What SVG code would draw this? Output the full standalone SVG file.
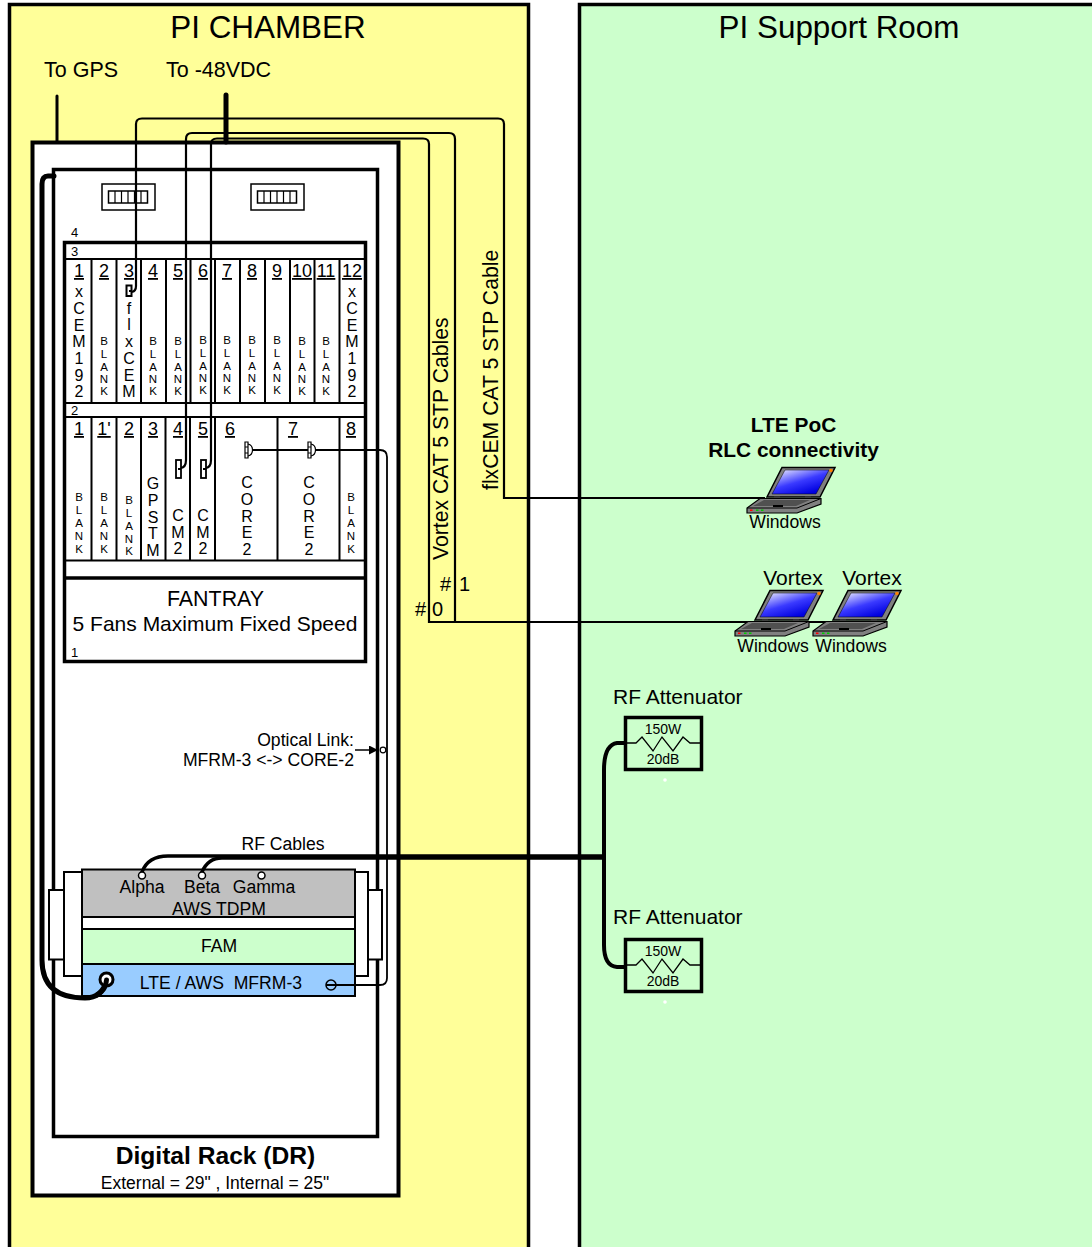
<svg xmlns="http://www.w3.org/2000/svg" width="1092" height="1247" viewBox="0 0 1092 1247">
<defs>
<linearGradient id="scr" x1="0.1" y1="0" x2="0.75" y2="0.9"><stop offset="0" stop-color="#e8e8ff"/><stop offset="0.55" stop-color="#3a3aff"/><stop offset="1" stop-color="#0000e0"/></linearGradient>
<marker id="arr" viewBox="0 0 10 10" refX="10" refY="5" markerWidth="11" markerHeight="9" markerUnits="userSpaceOnUse" orient="auto"><path d="M0 0L10 5L0 10Z" fill="#000"/></marker>
<g id="laptop">
<path d="M782 467.500L835 467.500L820 497L767 497Z" fill="#808080" stroke="#000" stroke-width="1.500"/>
<path d="M785 470L829 470L816 494L772 494Z" fill="url(#scr)" stroke="#000" stroke-width="0.500"/>
<circle cx="831" cy="470.500" r="1.700" fill="#ff8000"/>
<path d="M774 496.500H780V498.500H774ZM805 496.500H811V498.500H805Z" fill="#404040"/>
<path d="M760 498.500L821 498.500L821 504L797 513L747 513L747 508Z" fill="#808080" stroke="#000" stroke-width="1.200"/>
<path d="M747 508L797 508L821 498.500" fill="none" stroke="#000"/>
<path d="M764 500L810 500L796 506L753 506Z" fill="#505050"/>
<rect x="773" y="505" width="10" height="2" fill="#000"/>
<rect x="750" y="509.500" width="2.500" height="1.500" fill="#f00"/><rect x="756" y="509.500" width="2.500" height="1.500" fill="#0c0"/><rect x="761" y="509.500" width="2.500" height="1.500" fill="#0c0"/>
</g>
<g id="resistor" fill="none" stroke="#000">
<path d="M627 743L636 743L642 737L653 751L662 737L673 751L683 737L690 743L700 743" stroke-width="1.300"/>
</g>
<g id="vent"><rect x="0" y="0" width="53" height="26" fill="none" stroke="#000" stroke-width="1.500"/><rect x="6.500" y="7" width="39" height="12" fill="none" stroke="#000" stroke-width="1.500"/><path d="M13 7V19M19.500 7V19M26 7V19M32.500 7V19M39 7V19" stroke="#000" stroke-width="1.200"/></g>
<g id="dplug"><path d="M0 -6Q4.500 -5 4.500 0Q4.500 5 0 6" fill="#fff" stroke="#000" stroke-width="1.200"/><path d="M-3 -8H0V-3H-3ZM-3 -3H0V3H-3ZM-3 3H0V8H-3Z" fill="#fff" stroke="#000" stroke-width="1.200"/></g>
</defs>
<style>
text{font-family:"Liberation Sans",Arial,sans-serif;fill:#000}
.c{text-anchor:middle}
.n{font-size:18px;text-anchor:middle;text-decoration:underline}
.s{font-size:16px;text-anchor:middle}
.b{font-size:11.500px;text-anchor:middle}
.m{font-size:17.600px}
.t{font-size:13px}
.sl{fill:none;stroke:#000;stroke-width:2}
.cab{fill:none;stroke:#000;stroke-width:2.200}
.rf{fill:none;stroke:#000;stroke-width:3.500;stroke-linecap:round}
.att{fill:none;stroke:#000;stroke-width:3.500}
</style>
<rect width="1092" height="1247" fill="#fff"/>
<g id="pi-chamber"><rect x="9.500" y="4.500" width="519" height="1260" fill="#FFFF99" stroke="#000" stroke-width="3.500"/>
<text x="268" y="38" class="c" font-size="31.400">PI CHAMBER</text>
<text x="44" y="77" font-size="21.500">To GPS</text><text x="166" y="77" font-size="21.500">To -48VDC</text></g>
<g id="pi-support-room"><rect x="579.500" y="4.500" width="540" height="1260" fill="#CCFFCC" stroke="#000" stroke-width="3.500"/>
<text x="839" y="38" class="c" font-size="31.400">PI Support Room</text></g>

<g id="digital-rack">
<rect x="32.500" y="142.500" width="366" height="1053" fill="#fff" stroke="#000" stroke-width="4"/>
<rect x="53.500" y="169.500" width="324" height="967" fill="#fff" stroke="#000" stroke-width="3.500"/>
<text x="215.500" y="1164" class="c" font-size="24.600" font-weight="bold">Digital Rack (DR)</text>
<text x="215" y="1189" class="c" font-size="17.500">External = 29" , Internal = 25"</text>
<use href="#vent" x="102" y="184"/><use href="#vent" x="251" y="184"/>
</g>

<g id="shelf">
<rect x="64.500" y="242.500" width="301" height="419" fill="#fff" stroke="#000" stroke-width="3.500"/>
<path d="M66 578H366" stroke="#000" stroke-width="3.500"/>
<text x="71" y="237" class="t">4</text><text x="71" y="256" class="t">3</text><text x="71" y="415" class="t">2</text><text x="71" y="657" class="t">1</text>
<text x="215.500" y="606" class="c" font-size="21.400">FANTRAY</text>
<text x="215" y="631" class="c" font-size="21">5 Fans Maximum Fixed Speed</text>
</g>
<g id="upper-slots">
<path class="sl" d="M66 259H365M66 403H365M91.500 259V403M116.500 259V403M141 259V403M166 259V403M190.500 259V403M215 259V403M240 259V403M265 259V403M290 259V403M314.500 259V403M339.500 259V403"/>
<text class="n" x="79" y="277">1</text><text class="n" x="104" y="277">2</text><text class="n" x="129" y="277">3</text><text class="n" x="153" y="277">4</text><text class="n" x="178" y="277">5</text><text class="n" x="203" y="277">6</text><text class="n" x="227" y="277">7</text><text class="n" x="252" y="277">8</text><text class="n" x="277" y="277">9</text><text class="n" x="302" y="277">10</text><text class="n" x="326" y="277">11</text><text class="n" x="352" y="277">12</text>
<text class="s"><tspan x="79" y="297">x</tspan><tspan x="79" y="314">C</tspan><tspan x="79" y="331">E</tspan><tspan x="79" y="347">M</tspan><tspan x="79" y="364">1</tspan><tspan x="79" y="381">9</tspan><tspan x="79" y="397">2</tspan></text>
<text class="s"><tspan x="352" y="297">x</tspan><tspan x="352" y="314">C</tspan><tspan x="352" y="331">E</tspan><tspan x="352" y="347">M</tspan><tspan x="352" y="364">1</tspan><tspan x="352" y="381">9</tspan><tspan x="352" y="397">2</tspan></text>
<text class="s"><tspan x="129" y="314">f</tspan><tspan x="129" y="330">l</tspan><tspan x="129" y="347">x</tspan><tspan x="129" y="364">C</tspan><tspan x="129" y="381">E</tspan><tspan x="129" y="397">M</tspan></text>
<text class="b"><tspan x="104" y="345">B</tspan><tspan x="104" y="358">L</tspan><tspan x="104" y="371">A</tspan><tspan x="104" y="383">N</tspan><tspan x="104" y="395">K</tspan></text>
<text class="b"><tspan x="153" y="345">B</tspan><tspan x="153" y="358">L</tspan><tspan x="153" y="371">A</tspan><tspan x="153" y="383">N</tspan><tspan x="153" y="395">K</tspan></text>
<text class="b"><tspan x="178" y="345">B</tspan><tspan x="178" y="358">L</tspan><tspan x="178" y="371">A</tspan><tspan x="178" y="383">N</tspan><tspan x="178" y="395">K</tspan></text>
<text class="b"><tspan x="203" y="344">B</tspan><tspan x="203" y="357">L</tspan><tspan x="203" y="370">A</tspan><tspan x="203" y="382">N</tspan><tspan x="203" y="394">K</tspan></text>
<text class="b"><tspan x="227" y="344">B</tspan><tspan x="227" y="357">L</tspan><tspan x="227" y="370">A</tspan><tspan x="227" y="382">N</tspan><tspan x="227" y="394">K</tspan></text>
<text class="b"><tspan x="252" y="344">B</tspan><tspan x="252" y="357">L</tspan><tspan x="252" y="370">A</tspan><tspan x="252" y="382">N</tspan><tspan x="252" y="394">K</tspan></text>
<text class="b"><tspan x="277" y="344">B</tspan><tspan x="277" y="357">L</tspan><tspan x="277" y="370">A</tspan><tspan x="277" y="382">N</tspan><tspan x="277" y="394">K</tspan></text>
<text class="b"><tspan x="302" y="345">B</tspan><tspan x="302" y="358">L</tspan><tspan x="302" y="371">A</tspan><tspan x="302" y="383">N</tspan><tspan x="302" y="395">K</tspan></text>
<text class="b"><tspan x="326" y="345">B</tspan><tspan x="326" y="358">L</tspan><tspan x="326" y="371">A</tspan><tspan x="326" y="383">N</tspan><tspan x="326" y="395">K</tspan></text>
</g>
<g id="lower-slots">
<path class="sl" d="M66 417H365M66 560.500H365M91.500 417V560M116.500 417V560M141 417V560M165.500 417V560M190 417V560M215 417V560M277.500 417V560M339.500 417V560"/>
<text class="n" x="79" y="435">1</text><text class="n" x="104" y="435">1'</text><text class="n" x="129" y="435">2</text><text class="n" x="153" y="435">3</text><text class="n" x="178" y="435">4</text><text class="n" x="203" y="435">5</text><text class="n" x="230" y="435">6</text><text class="n" x="293" y="435">7</text><text class="n" x="351" y="435">8</text>
<text class="b"><tspan x="79" y="501">B</tspan><tspan x="79" y="514">L</tspan><tspan x="79" y="527">A</tspan><tspan x="79" y="540">N</tspan><tspan x="79" y="553">K</tspan></text>
<text class="b"><tspan x="104" y="501">B</tspan><tspan x="104" y="514">L</tspan><tspan x="104" y="527">A</tspan><tspan x="104" y="540">N</tspan><tspan x="104" y="553">K</tspan></text>
<text class="b"><tspan x="129" y="504">B</tspan><tspan x="129" y="517">L</tspan><tspan x="129" y="530">A</tspan><tspan x="129" y="543">N</tspan><tspan x="129" y="555">K</tspan></text>
<text class="b"><tspan x="351" y="501">B</tspan><tspan x="351" y="514">L</tspan><tspan x="351" y="527">A</tspan><tspan x="351" y="540">N</tspan><tspan x="351" y="553">K</tspan></text>
<text class="s"><tspan x="153" y="489">G</tspan><tspan x="153" y="506">P</tspan><tspan x="153" y="523">S</tspan><tspan x="153" y="539">T</tspan><tspan x="153" y="556">M</tspan></text>
<text class="s"><tspan x="178" y="521">C</tspan><tspan x="178" y="538">M</tspan><tspan x="178" y="554">2</tspan></text>
<text class="s"><tspan x="203" y="521">C</tspan><tspan x="203" y="538">M</tspan><tspan x="203" y="554">2</tspan></text>
<text class="s"><tspan x="247" y="488">C</tspan><tspan x="247" y="505">O</tspan><tspan x="247" y="522">R</tspan><tspan x="247" y="538">E</tspan><tspan x="247" y="555">2</tspan></text>
<text class="s"><tspan x="309" y="488">C</tspan><tspan x="309" y="505">O</tspan><tspan x="309" y="522">R</tspan><tspan x="309" y="538">E</tspan><tspan x="309" y="555">2</tspan></text>
</g>

<g id="mfrm-tray">
<rect x="49" y="890" width="15" height="69.500" fill="#fff" stroke="#000" stroke-width="2"/>
<rect x="64" y="872" width="18" height="104" fill="#fff" stroke="#000" stroke-width="2"/>
<rect x="355" y="872" width="13" height="104" fill="#fff" stroke="#000" stroke-width="2"/>
<rect x="368" y="890" width="14" height="69.500" fill="#fff" stroke="#000" stroke-width="2"/>
<rect x="82" y="869.500" width="273" height="47.500" fill="#C0C0C0" stroke="#000" stroke-width="2"/>
<rect x="82" y="929" width="273" height="35" fill="#CCFFCC" stroke="#000" stroke-width="2"/>
<rect x="82" y="964" width="273" height="32" fill="#99CCFF" stroke="#000" stroke-width="2"/>
<text x="142" y="893" class="m c">Alpha</text><text x="202" y="893" class="m c">Beta</text><text x="264" y="893" class="m c">Gamma</text>
<text x="219" y="915" class="m c">AWS TDPM</text><text x="219" y="952" class="m c">FAM</text>
<text x="221" y="989" class="m c" xml:space="preserve">LTE / AWS  MFRM-3</text>
<circle cx="261.500" cy="875.500" r="3.500" fill="#fff" stroke="#000" stroke-width="1.500"/>
</g>

<g id="attenuator-1"><rect x="625.500" y="717.500" width="76" height="52" fill="none" class="att"/><use href="#resistor"/>
<text x="663" y="734" class="c" font-size="14">150W</text><text x="663" y="764" class="c" font-size="14">20dB</text>
<circle cx="665" cy="780" r="1.800" fill="#fff"/>
<text x="613" y="704" font-size="21">RF Attenuator</text></g>
<g id="attenuator-2"><rect x="625.500" y="939.500" width="76" height="52" fill="none" class="att"/><use href="#resistor" y="222"/>
<text x="663" y="956" class="c" font-size="14">150W</text><text x="663" y="986" class="c" font-size="14">20dB</text>
<circle cx="665" cy="1002" r="1.800" fill="#fff"/>
<text x="613" y="924" font-size="21">RF Attenuator</text></g>

<g id="connectors">
<path d="M57 96V142" fill="none" stroke="#000" stroke-width="3" stroke-linecap="round"/>
<path d="M226 95V142" fill="none" stroke="#000" stroke-width="5" stroke-linecap="round"/>
<path class="cab" d="M132 292Q136 291 136 286V124Q136 118.500 142 118.500H498Q504 118.500 504 124V498H765"/>
<path class="cab" d="M180 468Q186 468 186 460V139Q186 133 192 133H449Q455 133 455 139V622"/>
<path class="cab" d="M205 468Q211 468 211 460V144Q211 138.500 217 138.500H423Q429 138.500 429 144V622H834"/>
<path d="M54 176H48Q42 176 42 184V960Q42 998 85 998Q102 998 107 980" fill="none" stroke="#000" stroke-width="5" stroke-linecap="round"/>
<path class="rf" d="M142 872Q148 856 168 856H604"/>
<path class="rf" d="M202 872Q208 858 222 858H604"/>
<path class="rf" d="M625 743H617Q604 745 604 770V945Q604 966 617 967H625" style="stroke-width:4"/>
<path fill="none" stroke="#000" stroke-width="1.800" d="M326 985H380Q387 985 387 978V457Q387 450 380 450H250"/>
<path d="M355 750H378" fill="none" stroke="#000" stroke-width="1.500" marker-end="url(#arr)"/>
<circle cx="383" cy="750" r="2.800" fill="#fff" stroke="#000" stroke-width="1.200"/>
<rect x="126.500" y="285.500" width="5" height="10.500" fill="#fff" stroke="#000" stroke-width="2"/>
<rect x="176" y="460" width="5" height="18" fill="#fff" stroke="#000" stroke-width="1.800"/>
<rect x="201" y="460" width="5" height="18" fill="#fff" stroke="#000" stroke-width="1.800"/>
<use href="#dplug" x="248" y="450"/><use href="#dplug" x="311" y="450"/>
<path d="M129 291H132M178 469H181M203 469H206" stroke="#000" stroke-width="2"/>
<circle cx="142" cy="875.500" r="3.500" fill="#fff" stroke="#000" stroke-width="1.500"/>
<circle cx="202" cy="875.500" r="3.500" fill="#fff" stroke="#000" stroke-width="1.500"/>
<circle cx="106.500" cy="979.500" r="6.500" fill="#fff" stroke="#000" stroke-width="3"/>
<path d="M106.500 980Q106 990 97 995" fill="none" stroke="#000" stroke-width="5" stroke-linecap="round"/>
<circle cx="331" cy="985" r="5" fill="none" stroke="#000" stroke-width="1.500"/>
</g>

<g id="cable-labels">
<text transform="translate(448 560) rotate(-90)" font-size="21.200">Vortex CAT 5 STP Cables</text>
<text transform="translate(498 490) rotate(-90)" font-size="21.200">flxCEM CAT 5 STP Cable</text>
<text x="440" y="591" font-size="20">#</text><text x="459" y="591" font-size="20">1</text>
<text x="415" y="616" font-size="20">#</text><text x="432" y="616" font-size="20">0</text>
<text x="354" y="746" class="m" text-anchor="end">Optical Link:</text>
<text x="354" y="766" class="m" text-anchor="end">MFRM-3 &lt;-&gt; CORE-2</text>
<text x="283" y="850" class="m c">RF Cables</text>
</g>

<g id="laptop-rlc"><use href="#laptop"/>
<text x="793.500" y="432" class="c" font-size="20.900" font-weight="bold">LTE PoC</text>
<text x="793.500" y="457" class="c" font-size="20.900" font-weight="bold">RLC connectivity</text>
<text x="785" y="528" class="m c">Windows</text></g>
<g id="laptop-vortex-1"><use href="#laptop" x="-12" y="123"/>
<text x="793" y="585" class="c" font-size="21">Vortex</text><text x="773" y="652" class="m c">Windows</text></g>
<g id="laptop-vortex-2"><use href="#laptop" x="66" y="123"/>
<text x="872" y="585" class="c" font-size="21">Vortex</text><text x="851" y="652" class="m c">Windows</text></g>
</svg>
